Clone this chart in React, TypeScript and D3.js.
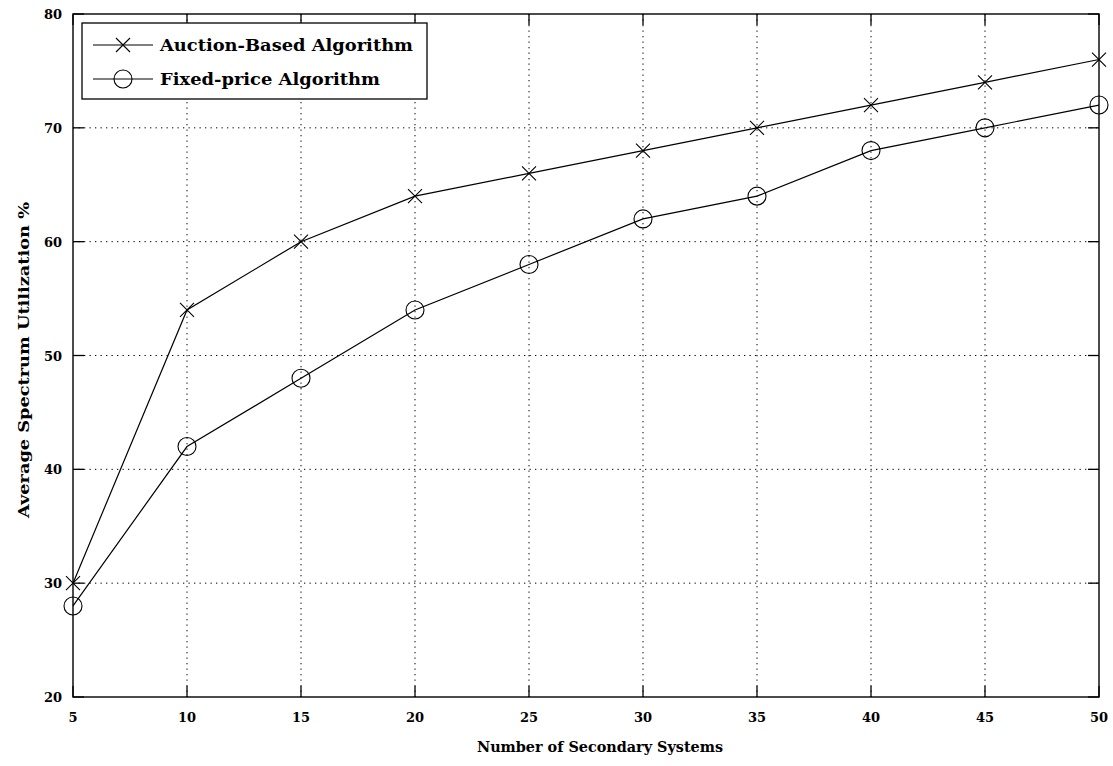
import React, { useEffect, useRef } from "react";
import * as d3 from "d3";

const systems = [5, 10, 15, 20, 25, 30, 35, 40, 45, 50];
const auctionBased = [30, 54, 60, 64, 66, 68, 70, 72, 74, 76];
const fixedPrice = [28, 42, 48, 54, 58, 62, 64, 68, 70, 72];
const xTicks = [5, 10, 15, 20, 25, 30, 35, 40, 45, 50];
const yTicks = [20, 30, 40, 50, 60, 70, 80];
const seriesNames = ["Auction-Based Algorithm", "Fixed-price Algorithm"];

const FONT = "'DejaVu Serif', 'Liberation Serif', serif";

export default function App() {
  const svgRef = useRef<SVGSVGElement>(null);

  useEffect(() => {
    document.body.style.margin = "0";
    document.body.style.overflow = "hidden";

    const w = 1113;
    const h = 766;
    const m = { left: 73, right: 1099, top: 14, bottom: 697 };

    const svg = d3.select(svgRef.current).attr("width", w).attr("height", h);
    svg.selectAll("*").remove();
    svg.append("rect").attr("width", w).attr("height", h).attr("fill", "#fff");

    //scales
    const x = d3.scaleLinear().domain([5, 50]).range([m.left, m.right]);
    const y = d3.scaleLinear().domain([20, 80]).range([m.bottom, m.top]);

    //grid
    const grid = svg.append("g").attr("stroke", "#000").attr("stroke-width", 1)
      .attr("stroke-dasharray", "1.3,4.2");
    xTicks.slice(1, -1).forEach((t) => {
      grid.append("line").attr("x1", x(t)).attr("x2", x(t))
        .attr("y1", m.top).attr("y2", m.bottom);
    });
    yTicks.slice(1, -1).forEach((t) => {
      grid.append("line").attr("y1", y(t)).attr("y2", y(t))
        .attr("x1", m.left).attr("x2", m.right);
    });

    //ticks (inward, all four sides)
    const tl = 11;
    const ticks = svg.append("g").attr("stroke", "#000").attr("stroke-width", 1.3);
    xTicks.forEach((t) => {
      ticks.append("line").attr("x1", x(t)).attr("x2", x(t)).attr("y1", m.bottom).attr("y2", m.bottom - tl);
      ticks.append("line").attr("x1", x(t)).attr("x2", x(t)).attr("y1", m.top).attr("y2", m.top + tl);
    });
    yTicks.forEach((t) => {
      ticks.append("line").attr("y1", y(t)).attr("y2", y(t)).attr("x1", m.left).attr("x2", m.left + tl);
      ticks.append("line").attr("y1", y(t)).attr("y2", y(t)).attr("x1", m.right).attr("x2", m.right - tl);
    });

    //frame
    svg.append("rect").attr("x", m.left).attr("y", m.top)
      .attr("width", m.right - m.left).attr("height", m.bottom - m.top)
      .attr("fill", "none").attr("stroke", "#000").attr("stroke-width", 1.4);

    //tick labels
    svg.append("g").selectAll("text").data(xTicks).enter().append("text")
      .attr("x", (d) => x(d)).attr("y", 722).attr("text-anchor", "middle")
      .attr("font-family", FONT).attr("font-weight", "bold").attr("font-size", 13)
      .text((d) => d);
    svg.append("g").selectAll("text").data(yTicks).enter().append("text")
      .attr("x", 62).attr("y", (d) => y(d) + 5).attr("text-anchor", "end")
      .attr("font-family", FONT).attr("font-weight", "bold").attr("font-size", 13)
      .text((d) => d);

    //axis labels
    svg.append("text").attr("x", 600).attr("y", 752).attr("text-anchor", "middle")
      .attr("font-family", FONT).attr("font-weight", "bold").attr("font-size", 15)
      .attr("textLength", 246).attr("lengthAdjust", "spacingAndGlyphs")
      .text("Number of Secondary Systems");
    svg.append("text").attr("transform", "translate(29,360) rotate(-90)").attr("text-anchor", "middle")
      .attr("font-family", FONT).attr("font-weight", "bold").attr("font-size", 15)
      .attr("textLength", 316).attr("lengthAdjust", "spacingAndGlyphs")
      .text("Average Spectrum Utilization %");

    //lines
    const line = d3.line<number>().x((d, i) => x(systems[i])).y((d) => y(d));
    [auctionBased, fixedPrice].forEach((s) => {
      svg.append("path").attr("d", line(s)).attr("fill", "none")
        .attr("stroke", "#000").attr("stroke-width", 1.2);
    });

    const cross = (g: any, cx: number, cy: number) => {
      const r = 7;
      g.append("path").attr("d", `M${cx - r},${cy - r}L${cx + r},${cy + r}M${cx - r},${cy + r}L${cx + r},${cy - r}`)
        .attr("stroke", "#000").attr("stroke-width", 1.1).attr("fill", "none");
    };
    const circle = (g: any, cx: number, cy: number) => {
      g.append("circle").attr("cx", cx).attr("cy", cy).attr("r", 9)
        .attr("stroke", "#000").attr("stroke-width", 1.1).attr("fill", "none");
    };

    const marks = svg.append("g");
    auctionBased.forEach((v, i) => cross(marks, x(systems[i]), y(v)));
    fixedPrice.forEach((v, i) => circle(marks, x(systems[i]), y(v)));

    //legend
    const lg = svg.append("g");
    lg.append("rect").attr("x", 82).attr("y", 23).attr("width", 345).attr("height", 76)
      .attr("fill", "#fff").attr("stroke", "#000").attr("stroke-width", 1.3);
    const rows = [45, 79];
    rows.forEach((ry, i) => {
      lg.append("line").attr("x1", 93).attr("x2", 153).attr("y1", ry).attr("y2", ry)
        .attr("stroke", "#000").attr("stroke-width", 1.2);
      if (i === 0) cross(lg, 123, ry);
      else circle(lg, 123, ry);
      lg.append("text").attr("x", 160).attr("y", ry + 6)
        .attr("font-family", FONT).attr("font-weight", "bold").attr("font-size", 17)
        .attr("textLength", i === 0 ? 253 : 220).attr("lengthAdjust", "spacingAndGlyphs")
        .text(seriesNames[i]);
    });
  }, []);

  return <svg ref={svgRef} style={{ display: "block" }}></svg>;
}
